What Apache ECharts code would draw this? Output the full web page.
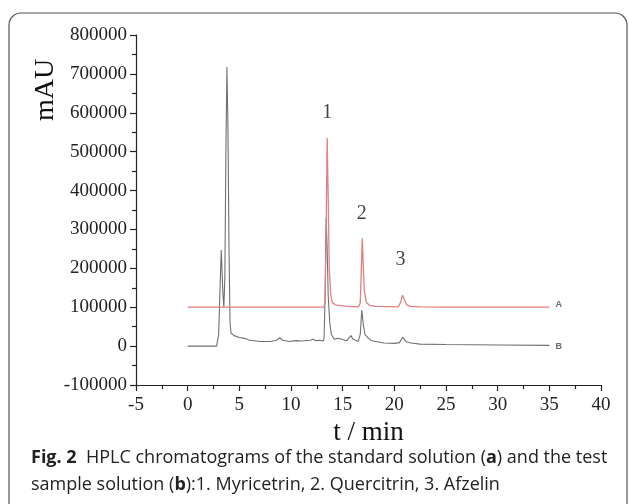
<!DOCTYPE html>
<html>
<head>
<meta charset="utf-8">
<script src="https://cdn.jsdelivr.net/npm/echarts@6/dist/echarts.min.js"></script>
<style>
html,body{margin:0;padding:0;background:#fff;}
#chart{width:629px;height:504px;}
</style>
</head>
<body>
<div id="chart"></div>
<script>
// ---- data ----
// Trace A (standard solution, drawn offset at +100000)
const timesA = [0, 3.0, 8.0, 13.2, 13.3, 13.4, 13.5, 13.6, 13.7, 13.85, 14.0, 14.3, 14.8, 15.5, 16.5, 16.7, 16.8, 16.9, 17.0, 17.1, 17.3, 17.6, 18.2, 20.4, 20.6, 20.8, 21.0, 21.2, 21.6, 22.5, 25, 35];
const valuesA = [100000, 100000, 100000, 100500, 115000, 300000, 535000, 380000, 200000, 130000, 112000, 106000, 104000, 102000, 101000, 110000, 190000, 277000, 200000, 140000, 112000, 105000, 102000, 101000, 112000, 131000, 118000, 106000, 102000, 101000, 100000, 100000];
// Trace B (test sample solution)
const timesB = [0, 2.8, 3.0, 3.1, 3.25, 3.4, 3.5, 3.6, 3.7, 3.8, 3.9, 4.0, 4.1, 4.2, 4.5, 5.0, 5.5, 6.0, 7.0, 8.0, 8.6, 8.9, 9.2, 9.8, 10.5, 11.0, 11.9, 12.1, 12.4, 12.8, 13.1, 13.2, 13.3, 13.4, 13.5, 13.6, 13.75, 13.9, 14.2, 14.6, 15.0, 15.4, 15.8, 16.0, 16.5, 16.7, 16.85, 17.0, 17.15, 17.3, 17.5, 17.8, 18.2, 19.0, 20.0, 20.5, 20.8, 21.1, 21.6, 22.5, 25, 30, 35];
const valuesB = [0, 0, 30000, 120000, 247000, 140000, 100000, 180000, 500000, 718000, 560000, 250000, 60000, 33000, 27000, 22000, 20000, 15000, 12000, 12000, 15000, 22000, 15000, 12000, 14000, 13000, 15000, 18000, 14000, 15000, 13000, 20000, 130000, 330000, 250000, 130000, 60000, 30000, 18000, 20000, 17000, 14000, 27000, 18000, 12000, 30000, 93000, 55000, 30000, 34000, 20000, 14000, 12000, 8000, 7000, 9000, 23000, 12000, 8000, 5000, 4000, 3000, 2000];
// Peak numbers
const peakNames = ['1', '2', '3'];
const peakX = [13.5, 16.85, 20.6];
const peakY = [600000, 340000, 222000];
// Trace tags
const traceNames = ['A', 'B'];
const traceTagX = [35.9, 35.9];
const traceTagY = [107000, 0];
// Axis ticks
const xTicks = [-5, 0, 5, 10, 15, 20, 25, 30, 35, 40];
const yTicks = [-100000, 0, 100000, 200000, 300000, 400000, 500000, 600000, 700000, 800000];

const zip = (xs, ys) => xs.map((x, i) => [x, ys[i]]);
const serif = 'Liberation Serif';

const chart = echarts.init(document.getElementById('chart'), null, {renderer: 'canvas'});
chart.setOption({
  animation: false,
  backgroundColor: '#fff',
  grid: {left: 136, right: 28, top: 35, bottom: 119, containLabel: false},
  title: {
    left: 26, top: 439,
    text: '{b|Fig. 2}  HPLC chromatograms of the standard solution ({b|a}) and the test\nsample solution ({b|b}):1. Myricetrin, 2. Quercitrin, 3. Afzelin',
    textStyle: {
      fontFamily: 'Open Sans', fontSize: 18, fontWeight: 'normal', color: '#222', lineHeight: 27,
      rich: {b: {fontFamily: 'Open Sans', fontSize: 18, fontWeight: 'bold', color: '#222', lineHeight: 27}}
    }
  },
  graphic: [
    {type: 'rect', shape: {x: 9, y: 13, width: 618, height: 520, r: 12}, style: {fill: 'none', stroke: '#555', lineWidth: 1.2}, silent: true, z: -1},
    {type: 'text', x: 46, y: 90, rotation: Math.PI / 2, style: {text: 'mAU', font: '28px "Liberation Serif"', fill: '#111', align: 'center', verticalAlign: 'middle'}}
  ],
  xAxis: {
    type: 'value', min: xTicks[0], max: xTicks[xTicks.length - 1], interval: 5,
    name: 't / min', nameLocation: 'middle', nameGap: 32,
    nameTextStyle: {fontFamily: serif, fontSize: 27, color: '#111'},
    axisLine: {show: true, onZero: false, lineStyle: {color: '#222', width: 1.2}},
    axisTick: {show: true, inside: false, length: 6, lineStyle: {color: '#222', width: 1.2}},
    minorTick: {show: true, splitNumber: 2, length: 4, lineStyle: {color: '#222', width: 1.2}},
    axisLabel: {fontFamily: serif, fontSize: 19, color: '#222', margin: 11},
    splitLine: {show: false}
  },
  yAxis: {
    type: 'value', min: yTicks[0], max: yTicks[yTicks.length - 1], interval: 100000,
    axisLine: {show: true, onZero: false, lineStyle: {color: '#222', width: 1.2}},
    axisTick: {show: true, inside: false, length: 6, lineStyle: {color: '#222', width: 1.2}},
    minorTick: {show: true, splitNumber: 2, length: 4, lineStyle: {color: '#222', width: 1.2}},
    axisLabel: {fontFamily: serif, fontSize: 19, color: '#222', margin: 9, formatter: v => String(v)},
    splitLine: {show: false}
  },
  series: [
    {
      name: 'B', type: 'line', data: zip(timesB, valuesB), showSymbol: false, symbol: 'none',
      lineStyle: {color: '#707070', width: 1.1}, z: 2
    },
    {
      name: 'A', type: 'line', data: zip(timesA, valuesA), showSymbol: false, symbol: 'none',
      lineStyle: {color: '#e27f7f', width: 1.3}, z: 3
    },
    {
      type: 'scatter', symbolSize: 0, silent: true,
      data: peakX.map((x, i) => ({value: [x, peakY[i]], name: peakNames[i]})),
      label: {show: true, position: 'inside', formatter: p => p.name, fontFamily: serif, fontSize: 20, color: '#111'}
    },
    {
      type: 'scatter', symbolSize: 0, silent: true,
      data: traceTagX.map((x, i) => ({value: [x, traceTagY[i]], name: traceNames[i]})),
      label: {show: true, position: 'inside', formatter: p => p.name, fontFamily: 'Liberation Sans', fontSize: 9, fontWeight: 'bold', color: '#444'}
    }
  ]
});
</script>
</body>
</html>
